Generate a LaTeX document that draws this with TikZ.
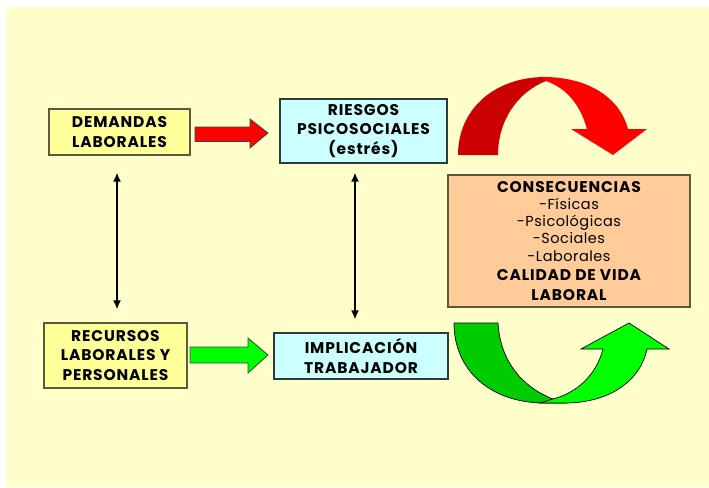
\documentclass[tikz,border=0pt]{standalone}
\usepackage{fontspec}
\newfontfamily\gbold{Poppins}[LetterSpace=5.5]
\newfontfamily\greg{Poppins}[LetterSpace=3.5]
\usetikzlibrary{arrows.meta}
\definecolor{bgy}{HTML}{FFFFCC}
\definecolor{boxy}{HTML}{FFFF99}
\definecolor{boxc}{HTML}{CCFFFF}
\definecolor{boxo}{HTML}{FFCC99}
\definecolor{bordy}{HTML}{5A5A3A}
\definecolor{bordc}{HTML}{2E3A3A}
\definecolor{dred}{HTML}{CC0000}
\definecolor{lred}{HTML}{FF0000}
\definecolor{dgreen}{HTML}{00CC00}
\definecolor{lgreen}{HTML}{00FF00}
\newcommand{\bt}{\gbold\bfseries\fontsize{15.5}{17.3}\selectfont}
\tikzset{
  box/.style={draw, line width=1.1pt, align=center, inner sep=0pt,
    font=\gbold\bfseries\fontsize{15.5}{19.5}\selectfont},
  ybox/.style={box, fill=boxy, draw=bordy},
  cbox/.style={box, fill=boxc, draw=bordc},
  obox/.style={box, fill=boxo, draw=bordy, font=\greg\fontsize{14.5}{17.3}\selectfont},
  dbl/.style={line width=2pt, {Latex[length=9pt,width=8pt]}-{Latex[length=9pt,width=8pt]}},
  blockarrow/.style={line width=0.8pt, draw=black!75},
}
\begin{document}
\begin{tikzpicture}[x=1pt,y=-1pt]
\useasboundingbox (0,0) rectangle (709,487);
\fill[white] (0,0) rectangle (709,487);
\fill[bgy] (6,7) rectangle (709,487);

\node[ybox, minimum width=141pt, minimum height=46pt] (dem) at (119.5,132) {DEMANDAS\\LABORALES};
\node[cbox, minimum width=167pt, minimum height=64pt] (ries) at (363.5,131) {RIESGOS\\PSICOSOCIALES\\(estrés)};
\node[ybox, minimum width=143pt, minimum height=65pt] (rec) at (115.5,355.5) {RECURSOS\\LABORALES Y\\PERSONALES};
\node[cbox, minimum width=174pt, minimum height=46pt] (impl) at (361,356) {IMPLICACIÓN\\TRABAJADOR};
\node[obox, minimum width=242pt, minimum height=132pt] (cons) at (569,241)
  {{\bt CONSECUENCIAS}\\-Físicas\\-Psicológicas\\-Sociales\\-Laborales\\[2pt]
   {\bt CALIDAD DE VIDA}\\[3pt]{\bt LABORAL}};

% vertical double arrows
\coordinate (lx) at (117,0);
\coordinate (mx) at (355,0);
\draw[dbl, shorten <=17pt, shorten >=13pt] (dem.south -| lx) -- (rec.north -| lx);
\draw[dbl, shorten <=9pt, shorten >=13pt] (ries.south -| mx) -- (impl.north -| mx);

% straight block arrows
\filldraw[blockarrow, fill=lred] (195,127) -- (250,127) -- (250,119) -- (268,133) -- (250,148) -- (250,141.5) -- (195,141.5) -- cycle;
\filldraw[blockarrow, fill=lgreen] (190,347) -- (248,347) -- (248,338) -- (268,355) -- (248,373) -- (248,363) -- (190,363) -- cycle;

% red curved arrow
\fill[dred] (458,155) .. controls (458,108) and (496,77) .. (545,77)
  -- (546,81) .. controls (518,92) and (498,120) .. (498,155) -- cycle;
\fill[lred] (540,77) .. controls (588,76) and (620,98) .. (628,129)
  -- (647,129) -- (613,155) -- (571,129) -- (587,129)
  .. controls (580,104) and (566,88) .. (546,81) -- cycle;

% green curved arrow
\filldraw[line width=0.7pt, draw=black, fill=dgreen] (454,323) -- (498,323)
  .. controls (500,362) and (524,392) .. (565,403)
  -- (545,403) .. controls (490,403) and (454,370) .. cycle;
\filldraw[line width=0.7pt, draw=black, fill=lgreen] (540,403) -- (565,403)
  .. controls (608,403) and (640,382) .. (647,349)
  -- (669,349) -- (629,323) -- (581,349) -- (603,349)
  .. controls (596,376) and (576,393) .. (553,399) -- cycle;
\end{tikzpicture}
\end{document}
